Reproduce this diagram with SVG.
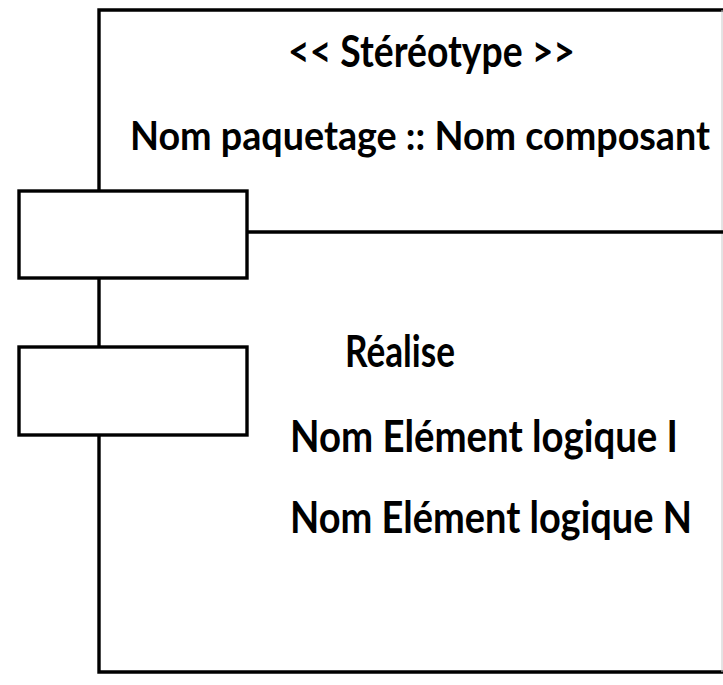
<svg xmlns="http://www.w3.org/2000/svg" width="723" height="685" viewBox="0 0 723 685">
<style>
.ln{fill:none;stroke:#000;stroke-width:3.4}
.box{fill:#fff;stroke:#000;stroke-width:3.4}
.t{font-family:Lato,"Open Sans","Liberation Sans",sans-serif;font-weight:bold;font-size:40px;fill:#000}
</style>
<rect width="723" height="685" fill="#fff"/>
<g id="component">
<path class="ln" d="M723 10 H99 V672 H723"/>
<line x1="722" y1="10" x2="722" y2="672" stroke="#c8c8c8" stroke-width="1"/>
<line class="ln" x1="247" y1="232" x2="723" y2="232"/>
<text class="t" transform="translate(288 67) scale(1 1.1)" textLength="287" lengthAdjust="spacingAndGlyphs">&lt;&lt; Stéréotype &gt;&gt;</text>
<text class="t" transform="translate(130 150) scale(1 1.1)" style="font-size:37px" textLength="580" lengthAdjust="spacingAndGlyphs">Nom paquetage :: Nom composant</text>
<text class="t" transform="translate(345 367) scale(1 1.1)" textLength="110" lengthAdjust="spacingAndGlyphs">Réalise</text>
<text class="t" transform="translate(290 452) scale(1 1.1)" textLength="388" lengthAdjust="spacingAndGlyphs">Nom Elément logique I</text>
<text class="t" transform="translate(290 533) scale(1 1.1)" textLength="402" lengthAdjust="spacingAndGlyphs">Nom Elément logique N</text>
</g>
<g id="port1">
<rect class="box" x="19" y="191" width="228" height="87"/>
</g>
<g id="port2">
<rect class="box" x="19" y="347" width="228" height="88"/>
</g>
<g id="connectors"></g>
</svg>
